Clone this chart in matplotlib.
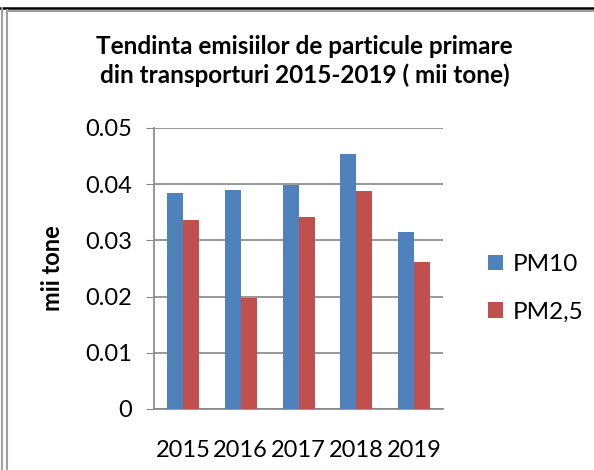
import numpy as np
import matplotlib.pyplot as plt
from matplotlib.lines import Line2D

years = ['2015', '2016', '2017', '2018', '2019']
pm10 = [0.0385, 0.0390, 0.0399, 0.0453, 0.0315]
pm25 = [0.0336, 0.0197, 0.0341, 0.0387, 0.0262]

plt.rcParams['font.family'] = ['Lato', 'DejaVu Sans']

fig = plt.figure(figsize=(5.94, 4.70), dpi=100)
ax = fig.add_axes([0.2593, 0.1298, 0.4865, 0.5979])

x = np.arange(len(years))
w = 0.277
ax.bar(x - w / 2, pm10, w, color='#4f81bd', label='PM10', zorder=3)
ax.bar(x + w / 2, pm25, w, color='#c0504d', label='PM2,5', zorder=3)

ax.set_xlim(-0.5, len(years) - 0.5)
ax.set_ylim(0, 0.05)
ax.set_yticks([0, 0.01, 0.02, 0.03, 0.04, 0.05])
ax.set_yticklabels(['0', '0.01', '0.02', '0.03', '0.04', '0.05'])
ax.set_xticks(x)
ax.set_xticklabels(years)
ax.grid(axis='y', color='#868686', linewidth=1.2, zorder=0)
ax.tick_params(axis='y', length=6, color='#868686', labelsize=17, pad=10)
ax.tick_params(axis='x', length=0, labelsize=17, pad=22)
for s in ['top', 'right']:
    ax.spines[s].set_visible(False)
for s in ['left', 'bottom']:
    ax.spines[s].set_color('#868686')
    ax.spines[s].set_linewidth(1.2)

ax.set_ylabel('mii tone', fontsize=17, fontweight='bold', labelpad=15)
fig.text(0.513, 0.87, 'Tendinta emisiilor de particule primare\ndin transporturi 2015-2019 ( mii tone)',
         ha='center', va='center', fontsize=17.5, fontweight='bold', linespacing=1.3)

ax.legend(loc='center left', bbox_to_anchor=(1.08, 0.43), frameon=False, fontsize=17.5,
          handlelength=0.6, handleheight=0.6, handletextpad=0.4, labelspacing=1.1)

# page borders around the chart
fig.add_artist(Line2D([0, 1], [1 - 8 / 470] * 2, color='black', linewidth=1.8))
fig.add_artist(Line2D([7 / 594, 1], [1 - 10.5 / 470] * 2, color='#a0a0a0', linewidth=1.5))
fig.add_artist(Line2D([1.5 / 594] * 2, [0, 1 - 8 / 470], color='#a0a0a0', linewidth=1.5))
fig.add_artist(Line2D([7 / 594] * 2, [0, 1 - 10 / 470], color='#a0a0a0', linewidth=1.5))

fig.savefig('out.png', dpi=100)
